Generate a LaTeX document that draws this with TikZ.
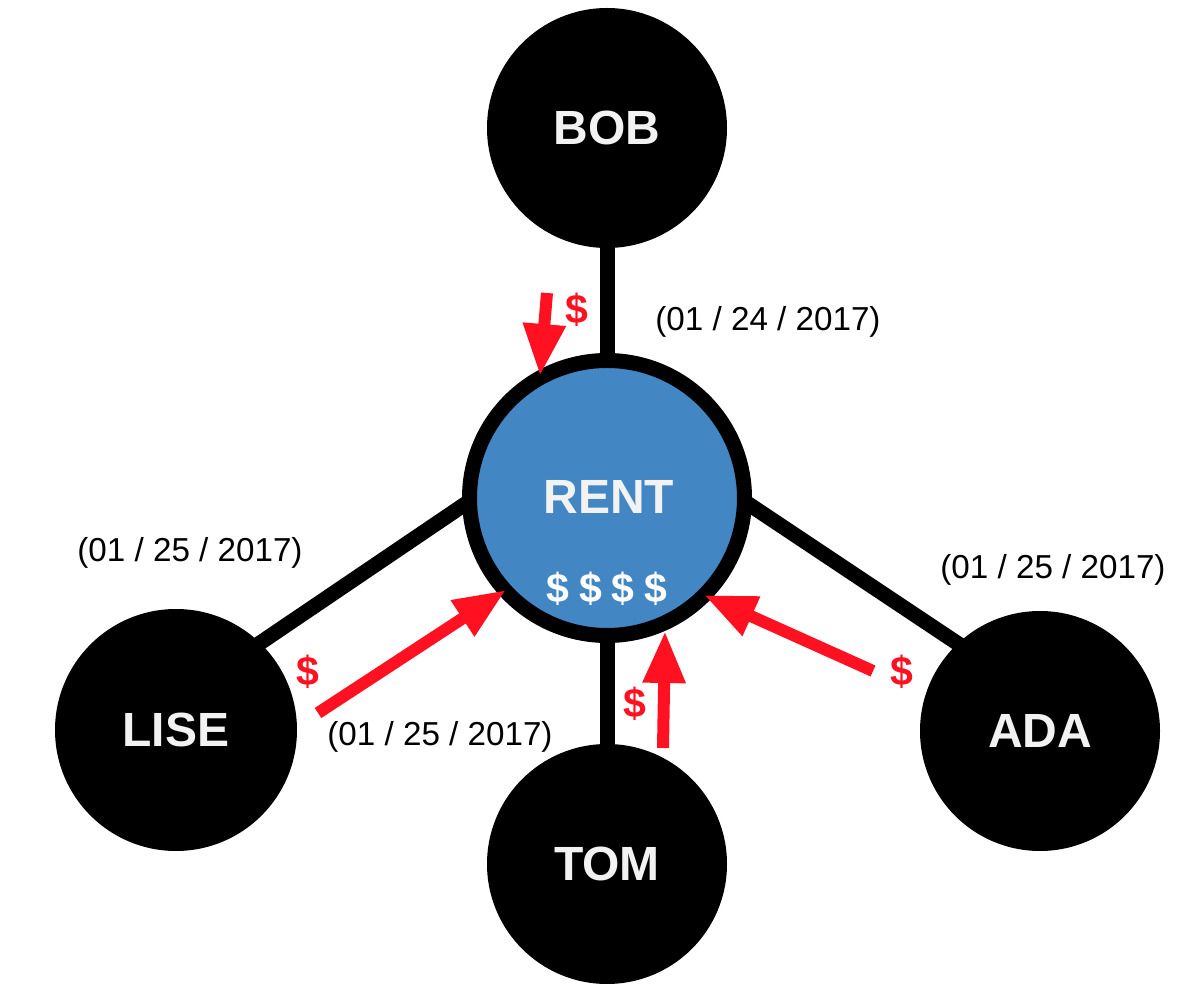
\documentclass[tikz,border=0pt]{standalone}
\usepackage{fontspec}
\setmainfont{Liberation Sans}
\usetikzlibrary{arrows.meta}
\definecolor{rentblue}{RGB}{66,134,196}
\definecolor{arrred}{RGB}{255,17,34}
\definecolor{nametxt}{RGB}{242,242,242}
\begin{document}
\begin{tikzpicture}[x=0.5pt,y=-0.5pt,
  person/.style={circle,fill=black,inner sep=0pt,minimum size=120pt,text=nametxt,font=\fontsize{24}{28}\selectfont\bfseries},
  link/.style={line width=7.5pt,black},
  pay/.style={line width=6pt,arrred,-{Triangle[length=26pt,width=20pt]}},
  dollar/.style={text=arrred,font=\fontsize{20.5}{23}\selectfont\bfseries},
  date/.style={text=black,font=\fontsize{16.6}{19}\selectfont}]
\useasboundingbox (0,0) rectangle (1196,994);
\coordinate (bobc) at (607,128);
\coordinate (rentc) at (607,498);
\coordinate (lisec) at (176,730);
\coordinate (tomc) at (607,864);
\coordinate (adac) at (1040,731);
% link anchors (ends are hidden under the circles)
\coordinate (lr) at (508,475); \coordinate (ll) at (198,685);
\coordinate (ar) at (699,471); \coordinate (aa) at (1029,691);
% links
\draw[link] (bobc) -- (rentc);
\draw[link] (lr) -- (ll);
\draw[link] (ar) -- (aa);
\draw[link] (tomc) -- (rentc);
% nodes
\node[person] (bob) at (bobc) {BOB};
\node[person,minimum size=121pt] (lise) at (lisec) {LISE};
\node[person] (tom) at (tomc) {TOM};
\node[person] (ada) at (adac) {ADA};
\node[circle,fill=rentblue,draw=black,line width=7.5pt,minimum size=137.5pt,inner sep=0pt] (rent) at (rentc) {};
\node[text=nametxt,font=\fontsize{24}{28}\selectfont\bfseries] (renttxt) at (609,497) {RENT};
\node[text=white,font=\fontsize{20.5}{23}\selectfont\bfseries] (money) at (607,589) {\$\hspace{0.24em}\$\hspace{0.24em}\$\hspace{0.24em}\$};
% payment arrows
\coordinate (a1s) at (547,293); \coordinate (a1e) at (540,376);
\coordinate (a2s) at (318,713); \coordinate (a2e) at (506,590);
\coordinate (a3s) at (663,748); \coordinate (a3e) at (665,631);
\coordinate (a4s) at (873,671); \coordinate (a4e) at (704,595);
\draw[pay] (a1s) -- (a1e);
\draw[pay] (a2s) -- (a2e);
\draw[pay] (a3s) -- (a3e);
\draw[pay] (a4s) -- (a4e);
% dollar labels
\node[dollar] (d1) at (577,310) {\$};
\node[dollar] (d2) at (308,672) {\$};
\node[dollar] (d3) at (635,704) {\$};
\node[dollar] (d4) at (902,672) {\$};
% dates
\node[date] (t1) at (768,322) {(01 / 24 / 2017)};
\node[date] (t2) at (190,553) {(01 / 25 / 2017)};
\node[date] (t3) at (1053,570) {(01 / 25 / 2017)};
\node[date] (t4) at (440,737) {(01 / 25 / 2017)};
\end{tikzpicture}
\end{document}
